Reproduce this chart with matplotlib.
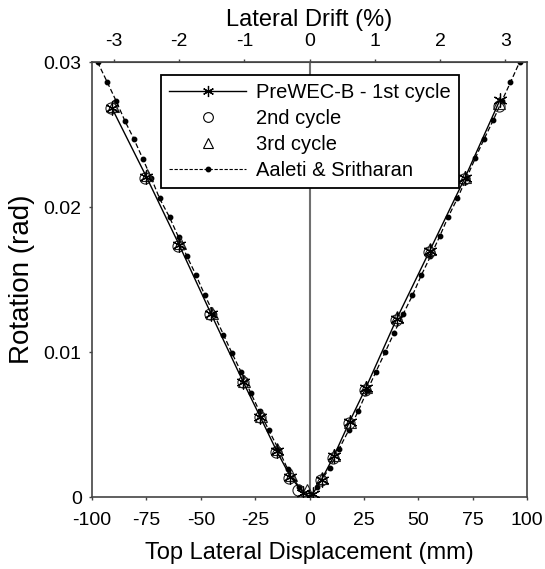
import matplotlib
matplotlib.use("Agg")
import matplotlib.pyplot as plt
from matplotlib.lines import Line2D

plt.rcParams['font.family'] = ['Liberation Sans', 'DejaVu Sans']
plt.rcParams['axes.unicode_minus'] = False

# 1st cycle (PreWEC-B)
c1_x = [-90.8, -75.1, -60.0, -45.2, -30.4, -22.6, -15.2, -8.8, -3.0, 1.4, 5.5, 11.1, 18.4, 25.8, 40.1, 55.3, 71.4, 87.6]
c1_y = [0.0268, 0.0221, 0.0174, 0.0126, 0.0079, 0.0055, 0.0032, 0.0014, 0.0003, 0.0002, 0.0012, 0.0028, 0.0052, 0.0075, 0.0123, 0.0170, 0.0220, 0.0274]
# 2nd cycle
c2_x = [-91.5, -75.8, -60.5, -45.6, -30.8, -22.9, -15.5, -9.6, -5.5, 5.2, 10.8, 18.0, 25.4, 39.7, 54.9, 71.0, 86.9]
c2_y = [0.0268, 0.0220, 0.0173, 0.0126, 0.0079, 0.0055, 0.0031, 0.0013, 0.0005, 0.0012, 0.0027, 0.0051, 0.0074, 0.0122, 0.0169, 0.0219, 0.0270]
# 3rd cycle
c3_x = [-90.3, -74.8, -59.7, -45.0, -30.2, -22.4, -15.0, -8.6, -1.4, 5.7, 11.3, 18.6, 26.0, 40.3, 55.5, 71.6, 87.2]
c3_y = [0.0270, 0.0222, 0.0175, 0.0127, 0.0080, 0.0056, 0.0033, 0.0015, 0.0005, 0.0013, 0.0029, 0.0052, 0.0076, 0.0124, 0.0171, 0.0221, 0.0272]
# Aaleti & Sritharan model
as_x = [-97.5, -93.0, -88.9, -84.8, -80.8, -76.6, -72.8, -69.0, -64.4, -60.2, -56.4, -52.2, -48.1, -43.9, -39.6, -35.6, -31.4, -27.1, -23.0, -18.7, -14.3, -10.0, -4.9, 0.0,
        3.4, 9.2, 13.5, 18.0, 22.3, 26.4, 30.4, 34.8, 38.8, 43.0, 47.3, 51.4, 55.6, 59.9, 63.7, 68.0, 72.2, 76.3, 80.3, 84.5, 88.4, 92.4, 96.6]
as_y = [0.0300, 0.0286, 0.0273, 0.0259, 0.0247, 0.0233, 0.0220, 0.0206, 0.0193, 0.0179, 0.0166, 0.0153, 0.0139, 0.0126, 0.0112, 0.0099, 0.0086, 0.0072, 0.0059, 0.0046, 0.0033, 0.0019, 0.0007, 0.0,
        0.0007, 0.0020, 0.0033, 0.0046, 0.0059, 0.0073, 0.0086, 0.0100, 0.0113, 0.0126, 0.0139, 0.0153, 0.0166, 0.0180, 0.0193, 0.0206, 0.0220, 0.0234, 0.0247, 0.0260, 0.0273, 0.0286, 0.0300]

x_ticks = [-100, -75, -50, -25, 0, 25, 50, 75, 100]
y_ticks = [0, 0.01, 0.02, 0.03]
y_tick_labels = ['0', '0.01', '0.02', '0.03']
drift_ticks = [-3, -2, -1, 0, 1, 2, 3]
height_mm = 3000.0

fig = plt.figure(figsize=(5.45, 5.69), dpi=100)
ax = fig.add_axes([0.169, 0.1265, 0.798, 0.7645])

spine_col = '#444444'
ax.axvline(0, color='#707070', lw=1.5, zorder=1)

ax.plot(as_x, as_y, color='black', ls=(0, (4, 2)), lw=0.9, marker='o', ms=3.2, mfc='black', mec='black', zorder=2)
ax.plot(c2_x, c2_y, ls='none', marker='o', ms=8, mfc='none', mec='#222222', mew=0.8, zorder=3)
ax.plot(c3_x, c3_y, ls='none', marker='^', ms=8, mfc='none', mec='#222222', mew=0.8, zorder=3)
ax.plot(c1_x, c1_y, color='black', lw=1.0, marker=(6, 2, 0), ms=10, mew=0.9, mec='black', zorder=4)

ax.set_xlim(-100, 100)
ax.set_ylim(0, 0.03)
ax.set_xticks(x_ticks)
ax.set_yticks(y_ticks)
ax.set_yticklabels(y_tick_labels)
ax.tick_params(axis='both', direction='out', length=2.5, width=1, colors='black', labelsize=14, color=spine_col)
ax.tick_params(axis='y', pad=5)
ax.tick_params(axis='x', pad=8)
for s in ax.spines.values():
    s.set_color(spine_col)
    s.set_linewidth(1.2)

ax.set_xlabel('Top Lateral Displacement (mm)', fontsize=17, labelpad=10)
ax.set_ylabel('Rotation (rad)', fontsize=20, labelpad=6)

top = ax.secondary_xaxis('top', functions=(lambda x: x / height_mm * 100, lambda d: d * height_mm / 100))
top.set_xticks(drift_ticks)
top.tick_params(direction='out', length=2.5, width=1, labelsize=14, color=spine_col, pad=6)
top.spines['top'].set_color(spine_col)
top.set_xlabel('Lateral Drift (%)', fontsize=17, labelpad=5)

handles = [
    Line2D([], [], color='black', lw=1.0, marker=(6, 2, 0), ms=8, mew=0.9),
    Line2D([], [], ls='none', marker='o', ms=7, mfc='none', mec='black', mew=0.8),
    Line2D([], [], ls='none', marker='^', ms=7, mfc='none', mec='black', mew=0.8),
    Line2D([], [], color='black', ls=(0, (3, 1.5)), lw=0.8, marker='o', ms=3.2),
]
labels = ['PreWEC-B - 1st cycle', '2nd cycle', '3rd cycle', 'Aaleti & Sritharan']
leg = ax.legend(handles, labels, loc='upper center', bbox_to_anchor=(0.501, 0.970), borderaxespad=0,
                fontsize=14.5, frameon=True, fancybox=False, edgecolor='black', framealpha=1,
                handlelength=3.8, labelspacing=0.35, borderpad=0.4, handletextpad=0.5)
leg.get_frame().set_linewidth(1.3)

fig.savefig('out.png', dpi=100)
